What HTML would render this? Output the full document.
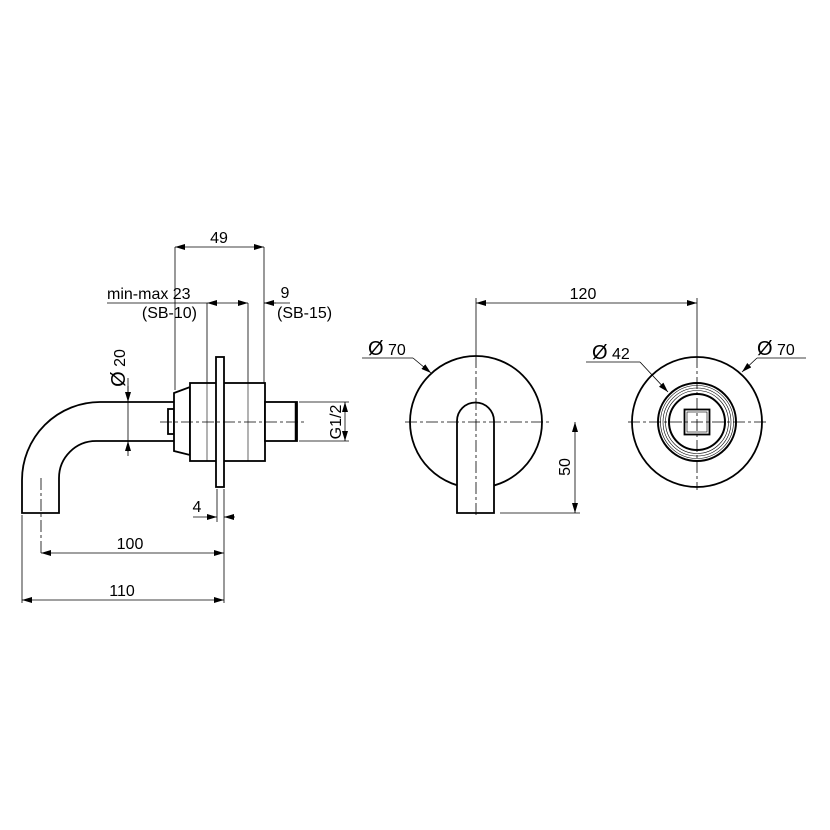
<!DOCTYPE html>
<html><head><style>html,body{margin:0;padding:0;background:#fff}svg{display:block}</style></head><body>
<svg width="830" height="830" viewBox="0 0 830 830" xmlns="http://www.w3.org/2000/svg" font-family="'Liberation Sans', 'DejaVu Sans', sans-serif" font-size="16" fill="none" stroke="#000">
<defs>
<marker id="a" viewBox="0 0 10 6" refX="10" refY="3" markerWidth="10" markerHeight="6" orient="auto-start-reverse" markerUnits="userSpaceOnUse"><path d="M0,0L10,3L0,6z" fill="#000" stroke="none"/></marker>
</defs>
<g stroke-width="0.8">
<line x1="175" y1="247" x2="264" y2="247" marker-start="url(#a)" marker-end="url(#a)"/>
<line x1="175" y1="247" x2="175" y2="390"/>
<line x1="264" y1="247" x2="264" y2="383"/>
<line x1="107" y1="303" x2="207" y2="303"/>
<line x1="207" y1="303" x2="248" y2="303" marker-start="url(#a)" marker-end="url(#a)"/>
<line x1="264" y1="303" x2="290" y2="303"/>
<line x1="276" y1="303" x2="264" y2="303" marker-end="url(#a)"/>
<line x1="207" y1="303" x2="207" y2="461"/>
<line x1="248" y1="303" x2="248" y2="461"/>
<line x1="128" y1="378" x2="128" y2="452"/>
<line x1="128" y1="386" x2="128" y2="402" marker-end="url(#a)"/>
<line x1="128" y1="456" x2="128" y2="441" marker-end="url(#a)"/>
<line x1="299" y1="402" x2="349" y2="402"/>
<line x1="299" y1="441" x2="349" y2="441"/>
<line x1="345" y1="402" x2="345" y2="441" marker-start="url(#a)" marker-end="url(#a)"/>
<line x1="217" y1="489" x2="217" y2="522"/>
<line x1="224" y1="489" x2="224" y2="603"/>
<line x1="193" y1="517" x2="217" y2="517" marker-end="url(#a)"/>
<line x1="235" y1="517" x2="224" y2="517" marker-end="url(#a)"/>
<line x1="41" y1="553" x2="224" y2="553" marker-start="url(#a)" marker-end="url(#a)"/>
<line x1="22" y1="515" x2="22" y2="603"/>
<line x1="22" y1="600" x2="224" y2="600" marker-start="url(#a)" marker-end="url(#a)"/>
<line x1="476" y1="303" x2="697" y2="303" marker-start="url(#a)" marker-end="url(#a)"/>
<line x1="476" y1="298" x2="476" y2="356"/>
<line x1="697" y1="298" x2="697" y2="356"/>
<line x1="500" y1="513" x2="580" y2="513"/>
<line x1="575" y1="422" x2="575" y2="513" marker-start="url(#a)" marker-end="url(#a)"/>
<line x1="362" y1="358" x2="413" y2="358"/>
<line x1="413" y1="358" x2="431" y2="373" marker-end="url(#a)"/>
<line x1="586" y1="362" x2="640" y2="362"/>
<line x1="640" y1="362" x2="668" y2="392" marker-end="url(#a)"/>
<line x1="757" y1="358" x2="806" y2="358"/>
<line x1="757" y1="358" x2="742" y2="372" marker-end="url(#a)"/>
</g>
<g stroke-width="0.8" stroke-dasharray="12,3,3,3">
<line x1="41" y1="478" x2="41" y2="555"/>
<line x1="628" y1="422" x2="766" y2="422"/>
<line x1="697" y1="356" x2="697" y2="490"/>
</g>
<g stroke-width="1.8" fill="#fff">
<path d="M175,402 L100,402 A78,78 0 0 0 22,480 L22,513 L59,513 L59,478 A37,37 0 0 1 96,441 L175,441" fill="none"/>
<rect x="168" y="409" width="6" height="25"/>
<path d="M174,393 L190,387 L190,455 L174,451 Z"/>
<rect x="190" y="383" width="75" height="78"/>
<rect x="265" y="402" width="32" height="39"/>
<rect x="216" y="357" width="8" height="130"/>
<circle cx="476" cy="422" r="66"/>
<path d="M457,421 A18.5,18.5 0 0 1 494,421 L494,513 L457,513 Z"/>
<circle cx="697" cy="422" r="65" fill="none"/>
<circle cx="697" cy="422" r="39" fill="none" stroke-width="2"/>
<circle cx="697" cy="422" r="28" fill="none" stroke-width="2"/>
<rect x="684.5" y="409.5" width="25" height="25" fill="none"/>
</g>
<g stroke-width="0.6">
<line x1="207" y1="383" x2="207" y2="461"/>
<line x1="248" y1="383" x2="248" y2="461"/>
<line x1="296" y1="402" x2="296" y2="441" stroke-width="2.5"/>
<circle cx="697" cy="422" r="36.5"/>
<circle cx="697" cy="422" r="34"/>
<circle cx="697" cy="422" r="31.5"/>
<rect x="687" y="412" width="20" height="20"/>
</g>
<g stroke-width="0.8" stroke-dasharray="12,3,3,3">
<line x1="160" y1="422" x2="305" y2="422"/>
<line x1="476" y1="356" x2="476" y2="517"/>
<line x1="405" y1="422" x2="550" y2="422"/>
</g>
<g fill="#000" stroke="none">
<text x="219" y="243" text-anchor="middle">49</text>
<text x="107" y="299">min-max 23</text>
<text x="197" y="318" text-anchor="end">(SB-10)</text>
<text x="285" y="298" text-anchor="middle">9</text>
<text x="277" y="318">(SB-15)</text>
<text transform="translate(125,368) rotate(-90)" text-anchor="middle"><tspan font-size="20">Ø</tspan> 20</text>
<text transform="translate(341,422) rotate(-90)" text-anchor="middle">G1/2</text>
<text x="197" y="512" text-anchor="middle">4</text>
<text x="130" y="549" text-anchor="middle">100</text>
<text x="122" y="596" text-anchor="middle">110</text>
<text x="583" y="299" text-anchor="middle">120</text>
<text transform="translate(570,467) rotate(-90)" text-anchor="middle">50</text>
<text x="368" y="355"><tspan font-size="20">Ø</tspan> 70</text>
<text x="592" y="359"><tspan font-size="20">Ø</tspan> 42</text>
<text x="757" y="355"><tspan font-size="20">Ø</tspan> 70</text>
</g>
</svg>
</body></html>
